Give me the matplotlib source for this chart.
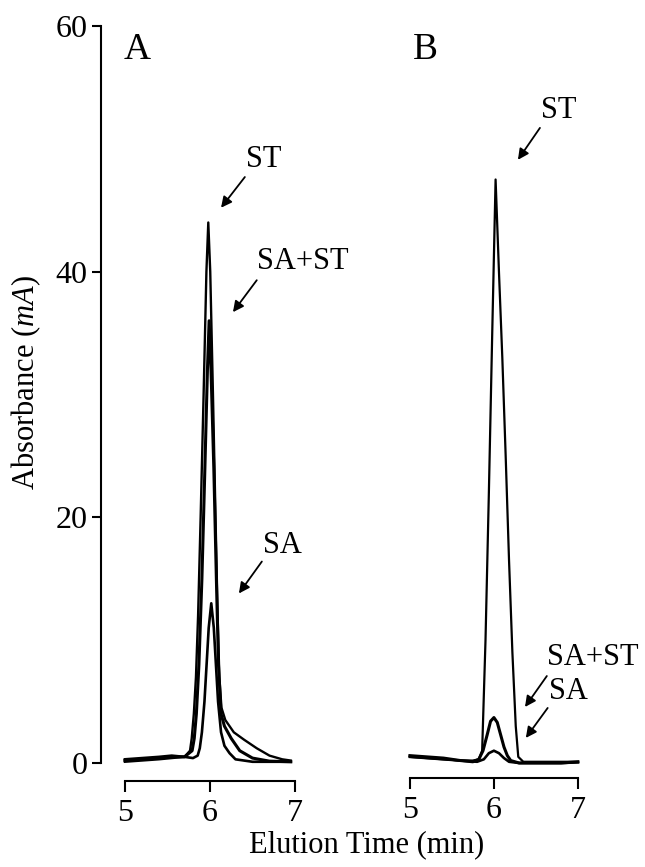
import matplotlib
matplotlib.use('Agg')
import matplotlib.pyplot as plt

plt.rcParams['font.family'] = ['Liberation Serif', 'DejaVu Serif']
plt.rcParams['mathtext.fontset'] = 'custom'
plt.rcParams['mathtext.it'] = 'Liberation Serif:italic'
plt.rcParams['mathtext.rm'] = 'Liberation Serif'

# panel A traces (elution time in min, absorbance in mA)
a_st_x = [5.0, 5.2, 5.4, 5.55, 5.7, 5.765, 5.785, 5.81, 5.835, 5.86, 5.89, 5.925, 5.958, 5.98,
          6.003, 6.035, 6.065, 6.09, 6.11, 6.135, 6.18, 6.28, 6.4, 6.55, 6.7, 6.85, 6.95]
a_st_y = [0.1, 0.2, 0.3, 0.4, 0.5, 1.0, 2.0, 4.0, 7.0, 12, 20, 30, 40, 44,
          40, 30, 20, 12, 7.0, 4.5, 3.5, 2.5, 1.9, 1.2, 0.6, 0.3, 0.2]

a_sast_x = [5.0, 5.2, 5.4, 5.55, 5.7, 5.79, 5.815, 5.84, 5.87, 5.905, 5.94, 5.97, 5.99,
            6.012, 6.045, 6.075, 6.1, 6.13, 6.17, 6.25, 6.35, 6.5, 6.7, 6.95]
a_sast_y = [0.2, 0.3, 0.4, 0.5, 0.5, 1.0, 2.0, 4.0, 8.0, 15, 24, 32, 36,
            32, 24, 15, 8.0, 4.0, 3.0, 2.0, 1.0, 0.4, 0.15, 0.1]

a_sa_x = [5.0, 5.2, 5.4, 5.55, 5.7, 5.8, 5.855, 5.88, 5.905, 5.935, 5.96, 5.985, 6.015, 6.045,
          6.07, 6.095, 6.13, 6.17, 6.23, 6.3, 6.5, 6.95]
a_sa_y = [0.3, 0.4, 0.5, 0.6, 0.5, 0.4, 0.6, 1.2, 2.5, 5.0, 8.0, 11, 13, 11,
          8.0, 5.0, 2.5, 1.4, 0.8, 0.3, 0.1, 0.1]

# panel B traces
b_st_x = [5.0, 5.2, 5.4, 5.6, 5.75, 5.82, 5.86, 5.9, 5.94, 5.98, 6.02, 6.06, 6.1, 6.14,
          6.18, 6.22, 6.26, 6.29, 6.35, 6.6, 6.8, 7.0]
b_st_y = [0.5, 0.4, 0.3, 0.2, 0.2, 0.3, 1.0, 10, 22, 35, 47.5, 40, 33, 25,
          16.5, 9.0, 3.0, 0.5, 0.1, 0.1, 0.1, 0.1]

b_sast_x = [5.0, 5.2, 5.4, 5.6, 5.75, 5.82, 5.87, 5.92, 5.96, 6.0, 6.04, 6.08, 6.12, 6.16,
            6.2, 6.3, 6.5, 6.8, 7.0]
b_sast_y = [0.6, 0.5, 0.4, 0.2, 0.1, 0.3, 1.0, 2.3, 3.4, 3.7, 3.3, 2.3, 1.3, 0.6,
            0.2, 0.0, 0.0, 0.0, 0.1]

b_sa_x = [5.0, 5.2, 5.4, 5.6, 5.8, 5.88, 5.94, 6.0, 6.06, 6.12, 6.18, 6.3, 6.5, 6.8, 7.0]
b_sa_y = [0.5, 0.4, 0.3, 0.2, 0.1, 0.3, 0.8, 1.0, 0.8, 0.4, 0.1, 0.0, 0.0, 0.0, 0.05]

y_ticks = [0, 20, 40, 60]
x_ticks = [5, 6, 7]

fig = plt.figure(figsize=(6.45, 8.67), dpi=100)
axA = fig.add_axes([0.156, 0.0987, 0.308, 0.8714])
axB = fig.add_axes([0.629, 0.0987, 0.2735, 0.8714])

axA.plot(a_st_x, a_st_y, color='black', lw=1.7)
axA.plot(a_sast_x, a_sast_y, color='black', lw=2.2)
axA.plot(a_sa_x, a_sa_y, color='black', lw=1.9)
axB.plot(b_st_x, b_st_y, color='black', lw=1.6)
axB.plot(b_sast_x, b_sast_y, color='black', lw=2.2)
axB.plot(b_sa_x, b_sa_y, color='black', lw=1.9)

axA.set_xlim(4.714, 7.05)
axB.set_xlim(4.95, 7.05)
for ax in (axA, axB):
    ax.set_ylim(-1.5, 60)
    ax.spines['top'].set_visible(False)
    ax.spines['right'].set_visible(False)
    ax.spines['bottom'].set_bounds(5, 7)
    ax.spines['bottom'].set_linewidth(1.5)
    ax.set_xticks(x_ticks)
    ax.tick_params(axis='x', direction='out', length=8, width=1.5, labelsize=23, pad=5)

axA.spines['left'].set_bounds(0, 60)
axA.spines['left'].set_linewidth(1.5)
axA.set_yticks(y_ticks)
axA.tick_params(axis='y', direction='out', length=6.5, width=1.5, labelsize=23, pad=3)

axB.spines['left'].set_visible(False)
axB.spines['bottom'].set_position(('data', -1.2))
axB.set_yticks([])

# panel letters
axA.text(5.14, 58.1, 'A', fontsize=27, ha='center', va='center')
axB.text(5.18, 58.1, 'B', fontsize=27, ha='center', va='center')

arrow = dict(arrowstyle='-|>', lw=1.3, color='black', mutation_scale=16, shrinkA=0, shrinkB=0)

axA.annotate('', xy=(6.13, 45.2), xytext=(6.41, 47.7), arrowprops=arrow)
axA.text(6.635, 49.1, 'ST', fontsize=22, ha='center', va='center')
axA.annotate('', xy=(6.27, 36.7), xytext=(6.55, 39.3), arrowprops=arrow)
axA.text(7.09, 40.8, 'SA+ST', fontsize=22, ha='center', va='center', clip_on=False)
axA.annotate('', xy=(6.34, 13.8), xytext=(6.61, 16.4), arrowprops=arrow)
axA.text(6.85, 17.7, 'SA', fontsize=22, ha='center', va='center')

axB.annotate('', xy=(6.286, 49.1), xytext=(6.548, 51.7), arrowprops=arrow)
axB.text(6.774, 53.1, 'ST', fontsize=22, ha='center', va='center')
axB.annotate('', xy=(6.37, 4.56), xytext=(6.63, 7.08), arrowprops=arrow)
axB.text(7.18, 8.55, 'SA+ST', fontsize=22, ha='center', va='center', clip_on=False)
axB.annotate('', xy=(6.38, 2.04), xytext=(6.64, 4.48), arrowprops=arrow)
axB.text(6.89, 5.78, 'SA', fontsize=22, ha='center', va='center', clip_on=False)

fig.text(367 / 645, 1 - 845 / 867, 'Elution Time (min)', fontsize=22, ha='center', va='center')
fig.text(26 / 645, 1 - 383 / 867, 'Absorbance ($mA$)', fontsize=22, ha='center', va='center',
         rotation=90)

fig.savefig('out.png', dpi=100)
